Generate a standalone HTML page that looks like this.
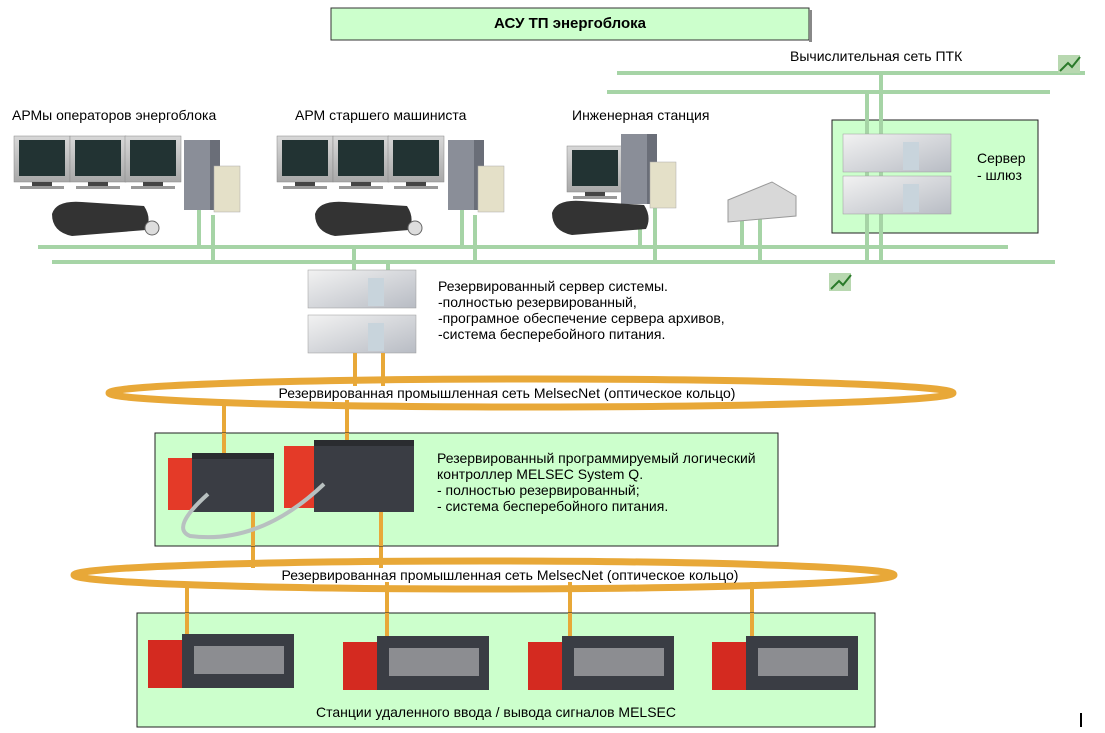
<!DOCTYPE html>
<html><head><meta charset="utf-8"><style>
body{margin:0;background:#fff;}
svg{display:block;font-family:"Liberation Sans",sans-serif;}
</style></head><body>
<svg width="1105" height="733" viewBox="0 0 1105 733" xmlns="http://www.w3.org/2000/svg">
<defs>
<linearGradient id="mon" x1="0" y1="0" x2="0" y2="1"><stop offset="0" stop-color="#d8d8d8"/><stop offset="1" stop-color="#a8a8a8"/></linearGradient>
<linearGradient id="srv" x1="0" y1="0" x2="1" y2="1"><stop offset="0" stop-color="#f2f2f2"/><stop offset="1" stop-color="#b8bcc4"/></linearGradient>
<g id="monitor"><rect x="0" y="0" width="56" height="46" fill="url(#mon)" stroke="#888" stroke-width="0.5"/><rect x="5" y="4" width="46" height="36" fill="#233"/><rect x="18" y="46" width="20" height="4" fill="#444"/><rect x="6" y="50" width="44" height="3" fill="#999"/></g>
<g id="tower"><rect x="0" y="0" width="36" height="70" fill="#8a8e98"/><rect x="26" y="0" width="10" height="70" fill="#6a6e78"/></g>
<g id="ups"><rect x="0" y="0" width="26" height="46" fill="#e4e0c8" stroke="#aaa" stroke-width="0.5"/></g>
<g id="kbd"><path d="M0 18 Q4 4 30 6 L92 10 Q100 22 94 34 L20 40 Q0 36 0 18Z" fill="#333"/></g>
<g id="rack"><rect x="0" y="0" width="108" height="38" fill="url(#srv)" stroke="#999" stroke-width="0.5"/><rect x="60" y="8" width="16" height="28" fill="#c8d4dc"/></g>
<g id="io"><rect x="0" y="6" width="34" height="48" fill="#d42a20"/><rect x="34" y="0" width="112" height="54" fill="#3a3d44"/><rect x="46" y="12" width="90" height="28" fill="#ddd" opacity="0.5"/></g>
<g id="logo"><rect x="0" y="0" width="22" height="18" fill="#b8d8b0"/><path d="M2 16 L10 8 L14 12 L22 2" stroke="#2a7a2a" stroke-width="2" fill="none"/></g>
</defs>

<rect x="331" y="8" width="478" height="32" fill="#ccffcc" stroke="#333"/>
<rect x="809" y="10" width="3" height="32" fill="#888"/>
<text x="570" y="28" font-size="15" font-weight="bold" text-anchor="middle">АСУ ТП энергоблока</text>

<g stroke="#a6d4a6" stroke-width="4">
<line x1="617" y1="73" x2="1085" y2="73"/>
<line x1="607" y1="92" x2="1050" y2="92"/>
<line x1="38" y1="247" x2="1008" y2="247"/>
<line x1="52" y1="262" x2="1055" y2="262"/>
</g>
<text x="790" y="61" font-size="14">Вычислительная сеть ПТК</text>
<use href="#logo" x="1058" y="55"/>
<use href="#logo" x="829" y="273"/>

<rect x="832" y="120" width="206" height="113" fill="#ccffcc" stroke="#222"/>
<g stroke="#a6d4a6" stroke-width="4">
<line x1="867" y1="92" x2="867" y2="262"/><line x1="881" y1="73" x2="881" y2="262"/>
</g>
<use href="#rack" x="843" y="134"/><use href="#rack" x="843" y="176"/>
<text x="977" y="163" font-size="14">Сервер</text>
<text x="977" y="180" font-size="14">- шлюз</text>

<g stroke="#a6d4a6" stroke-width="4">
<line x1="199" y1="208" x2="199" y2="247"/><line x1="213" y1="215" x2="213" y2="262"/>
<line x1="462" y1="208" x2="462" y2="247"/><line x1="475" y1="215" x2="475" y2="262"/>
<line x1="640" y1="205" x2="640" y2="247"/><line x1="655" y1="200" x2="655" y2="262"/>
<line x1="742" y1="218" x2="742" y2="247"/><line x1="760" y1="218" x2="760" y2="262"/>
<line x1="354" y1="247" x2="354" y2="275"/><line x1="388" y1="262" x2="388" y2="275"/>
</g>

<text x="12" y="120" font-size="14">АРМы операторов энергоблока</text>
<use href="#monitor" x="14" y="136"/><use href="#monitor" x="70" y="136"/><use href="#monitor" x="125" y="136"/>
<use href="#kbd" x="52" y="196"/>
<use href="#tower" x="184" y="140"/><use href="#ups" x="214" y="166"/>
<ellipse cx="152" cy="228" rx="7" ry="7" fill="#ddd" stroke="#666"/>

<text x="295" y="120" font-size="14">АРМ старшего машиниста</text>
<use href="#monitor" x="277" y="136"/><use href="#monitor" x="333" y="136"/><use href="#monitor" x="388" y="136"/>
<use href="#kbd" x="315" y="196"/>
<use href="#tower" x="448" y="140"/><use href="#ups" x="478" y="166"/>
<ellipse cx="415" cy="228" rx="7" ry="7" fill="#ddd" stroke="#666"/>

<text x="572" y="120" font-size="14">Инженерная станция</text>
<use href="#monitor" x="567" y="146"/>
<use href="#tower" x="621" y="134"/><use href="#ups" x="650" y="162"/>
<use href="#kbd" x="552" y="195"/>
<path d="M728 200 L772 182 L796 196 L796 216 L728 222Z" fill="#d8d8d8" stroke="#999"/>

<use href="#rack" x="308" y="270"/><use href="#rack" x="308" y="315"/>
<g font-size="14">
<text x="438" y="291">Резервированный сервер системы.</text>
<text x="438" y="307">-полностью резервированный,</text>
<text x="438" y="323">-програмное обеспечение сервера архивов,</text>
<text x="438" y="339">-система бесперебойного питания.</text>
</g>

<g stroke="#e8a838" stroke-width="4">
<line x1="355" y1="353" x2="355" y2="386"/><line x1="383" y1="353" x2="383" y2="386"/>
<line x1="224" y1="400" x2="224" y2="440"/><line x1="347" y1="400" x2="347" y2="440"/>
<line x1="253" y1="546" x2="253" y2="568"/><line x1="381" y1="546" x2="381" y2="568"/>
<line x1="187" y1="582" x2="187" y2="640"/><line x1="387" y1="582" x2="387" y2="640"/>
<line x1="570" y1="582" x2="570" y2="640"/><line x1="752" y1="582" x2="752" y2="640"/>
</g>

<ellipse cx="531" cy="393" rx="422" ry="14" fill="none" stroke="#e8a838" stroke-width="7"/>
<text x="507" y="398" font-size="14" text-anchor="middle">Резервированная промышленная сеть MelsecNet (оптическое кольцо)</text>

<rect x="155" y="433" width="623" height="113" fill="#ccffcc" stroke="#222"/>
<g stroke="#e8a838" stroke-width="4">
<line x1="224" y1="433" x2="224" y2="460"/><line x1="347" y1="433" x2="347" y2="444"/>
<line x1="253" y1="510" x2="253" y2="546"/><line x1="381" y1="510" x2="381" y2="546"/>
</g>
<!-- PLC 1 -->
<rect x="168" y="458" width="24" height="52" fill="#e43a28"/>
<rect x="192" y="455" width="82" height="57" fill="#3a3d44"/>
<rect x="192" y="453" width="82" height="6" fill="#2a2c30"/>
<!-- PLC 2 -->
<rect x="284" y="446" width="30" height="62" fill="#e43a28"/>
<rect x="314" y="442" width="100" height="70" fill="#3a3d44"/>
<rect x="314" y="440" width="100" height="6" fill="#2a2c30"/>
<path d="M208 494 Q170 528 190 536 Q260 545 324 484" stroke="#b8c0c0" stroke-width="4" fill="none"/>
<g font-size="14">
<text x="437" y="463">Резервированный программируемый логический</text>
<text x="437" y="479">контроллер MELSEC System Q.</text>
<text x="437" y="495">- полностью резервированный;</text>
<text x="437" y="511">- система бесперебойного питания.</text>
</g>

<ellipse cx="484" cy="575" rx="410" ry="14" fill="none" stroke="#e8a838" stroke-width="7"/>
<text x="510" y="580" font-size="14" text-anchor="middle">Резервированная промышленная сеть MelsecNet (оптическое кольцо)</text>

<rect x="137" y="613" width="738" height="114" fill="#ccffcc" stroke="#222"/>
<g stroke="#e8a838" stroke-width="4">
<line x1="187" y1="613" x2="187" y2="636"/><line x1="387" y1="613" x2="387" y2="636"/>
<line x1="570" y1="613" x2="570" y2="636"/><line x1="752" y1="613" x2="752" y2="636"/>
</g>
<use href="#io" x="148" y="634"/><use href="#io" x="343" y="636"/><use href="#io" x="528" y="636"/><use href="#io" x="712" y="636"/>
<text x="496" y="717" font-size="14" text-anchor="middle">Станции удаленного ввода / вывода сигналов MELSEC</text>
<rect x="1080" y="713" width="2" height="14" fill="#000"/>
</svg>
</body></html>
